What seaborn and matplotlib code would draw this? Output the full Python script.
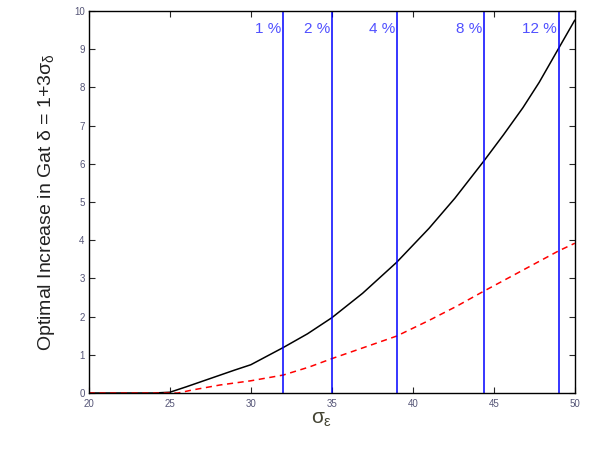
import numpy as np
import pandas as pd
import matplotlib
matplotlib.use("Agg")
import matplotlib.pyplot as plt
import seaborn as sns

# values
solid_x = [20, 22, 24, 25, 26, 27.5, 29, 30, 32, 33.5, 35, 36.9, 39, 41, 42.6,
           44.4, 45.6, 46.8, 47.8, 49, 50]
solid_y = [0, 0, 0, 0.02, 0.16, 0.38, 0.6, 0.74, 1.19, 1.55, 1.97, 2.61, 3.42,
           4.31, 5.1, 6.08, 6.76, 7.47, 8.13, 9.02, 9.76]

dashed_x = [20, 22, 24, 25, 25.5, 26.4, 28.1, 30, 32, 33.6, 35, 36.7, 39, 41,
            42.7, 44.4, 46.2, 47.6, 49, 50]
dashed_y = [0, 0, 0, 0, 0, 0.08, 0.21, 0.32, 0.47, 0.68, 0.9, 1.15, 1.49, 1.9,
            2.27, 2.67, 3.08, 3.4, 3.72, 3.92]

vline_x = [32, 35, 39, 44.4, 49]
vline_labels = ["1 %", "2 %", "4 %", "8 %", "12 %"]

solid = pd.DataFrame({"sigma": solid_x, "g": solid_y})
dashed = pd.DataFrame({"sigma": dashed_x, "g": dashed_y})

sns.set_style("ticks")
plt.rcParams["font.family"] = ["Liberation Sans", "DejaVu Sans"]
plt.rcParams["mathtext.fontset"] = "custom"
plt.rcParams["mathtext.rm"] = "Liberation Sans"
plt.rcParams["mathtext.it"] = "Liberation Sans"

fig = plt.figure(figsize=(6.0, 4.57), dpi=100)
ax = fig.add_axes([0.148, 0.140, 0.810, 0.836])

sns.lineplot(data=solid, x="sigma", y="g", color="black", linewidth=1.1, ax=ax)
sns.lineplot(data=dashed, x="sigma", y="g", color="red", linewidth=1.1, ax=ax)
ax.lines[-1].set_dashes([4, 3])

for xv, lab in zip(vline_x, vline_labels):
    ax.axvline(xv, color="blue", linewidth=1.1)
    ax.text(xv - 0.1, 9.53, lab, color="#5050ff", fontsize=11,
            ha="right", va="center")

ax.set_xlim(20, 50)
ax.set_ylim(0, 10)
ax.set_xticks(range(20, 51, 5))
ax.set_yticks(range(0, 11))
ax.tick_params(direction="in", top=True, right=True, length=4, width=0.8,
               labelsize=7, labelcolor="#555577")
ax.tick_params(axis="x", pad=4)
ax.tick_params(axis="y", pad=3)
for s in ax.spines.values():
    s.set_linewidth(1.0)
    s.set_color("black")

ax.set_xlabel(r"$\sigma_\varepsilon$", fontsize=15, color="#444433", labelpad=2)
ax.xaxis.set_label_coords(0.48, -0.045, transform=ax.transAxes)
ax.xaxis.label.set_va("top")
ax.set_ylabel(r"Optimal Increase in Gat $\delta$ = 1+3$\sigma_\delta$", fontsize=14,
              color="#222222", labelpad=12)

fig.savefig("out.png", dpi=100)
